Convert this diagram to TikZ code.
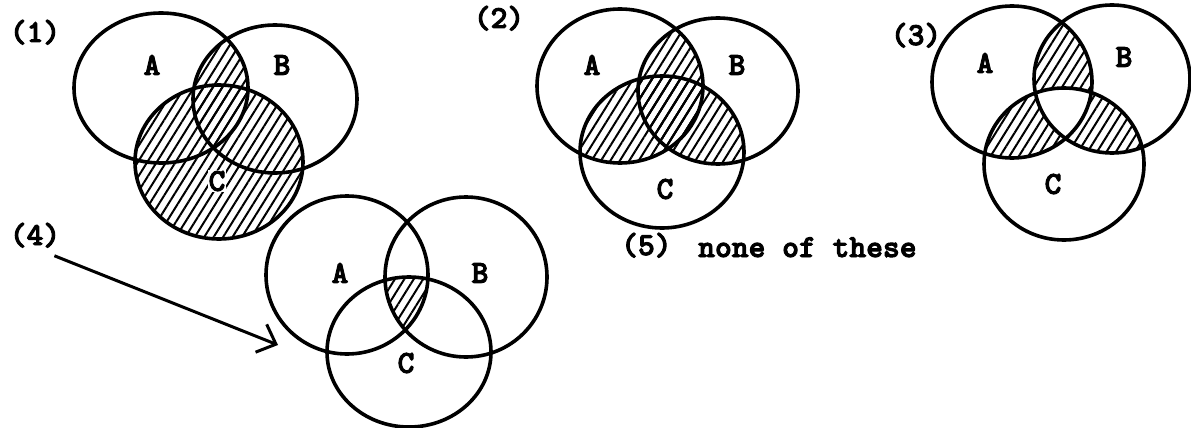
\documentclass[tikz,border=0pt]{standalone}
\usepackage{fontspec}
\newfontfamily\lbfont{lmmonolt10-bold}[Extension=.otf, FakeBold=3]
\usetikzlibrary{patterns.meta,arrows.meta}
\tikzset{
  ring/.style={line width=3.6pt},
  hatch/.style={pattern={Lines[angle=58,distance=8pt,line width=2pt]}},
  lbl/.style={font=\lbfont\fontsize{32}{34}\selectfont, inner sep=0pt},
  pointer/.style={line width=3pt, -{Straight Barb[length=16pt,width=30pt,line width=3pt]}},
}
\begin{document}
\begin{tikzpicture}[x=1pt,y=-1pt]
\useasboundingbox (0,0) rectangle (1191,428);

% ---------- Diagram 1 : (A and B) or C ----------
\begin{scope}
  \clip (161,88) ellipse [x radius=87pt,y radius=75pt];
  \fill[hatch] (275,99) ellipse [x radius=82pt,y radius=74pt];
\end{scope}
\fill[hatch] (219,162) ellipse [x radius=84pt,y radius=77pt];
\draw[ring] (161,88) ellipse [x radius=87pt,y radius=75pt];
\draw[ring] (275,99) ellipse [x radius=82pt,y radius=74pt];
\draw[ring] (219,162) ellipse [x radius=84pt,y radius=77pt];
\node[lbl, anchor=base] (n1) at (35,42) {(1)};
\node[lbl] (a1) at (152,65) {A};
\node[lbl] (b1) at (282,65) {B};
\node[lbl, fill=white, inner sep=1pt] (c1) at (217,181) {C};

% ---------- Diagram 2 : pairwise intersections ----------
\begin{scope}
  \clip (620,86) ellipse [x radius=83pt,y radius=77pt];
  \fill[hatch] (718,91) ellipse [x radius=80pt,y radius=73pt];
  \fill[hatch] (662,152) ellipse [x radius=82pt,y radius=76pt];
\end{scope}
\begin{scope}
  \clip (718,91) ellipse [x radius=80pt,y radius=73pt];
  \fill[hatch] (662,152) ellipse [x radius=82pt,y radius=76pt];
\end{scope}
\draw[ring] (620,86) ellipse [x radius=83pt,y radius=77pt];
\draw[ring] (718,91) ellipse [x radius=80pt,y radius=73pt];
\draw[ring] (662,152) ellipse [x radius=82pt,y radius=76pt];
\node[lbl, anchor=base] (n2) at (499,28) {(2)};
\node[lbl] (a2) at (592,65) {A};
\node[lbl] (b2) at (737,65) {B};
\node[lbl] (c2) at (665,189) {C};

% ---------- Diagram 3 : pairwise intersections without the triple ----------
\begin{scope}
  \clip (1012,82) ellipse [x radius=80pt,y radius=76pt];
  \fill[hatch] (1112,79) ellipse [x radius=78pt,y radius=74pt];
  \fill[hatch] (1064,164) ellipse [x radius=80pt,y radius=76pt];
\end{scope}
\begin{scope}
  \clip (1112,79) ellipse [x radius=78pt,y radius=74pt];
  \fill[hatch] (1064,164) ellipse [x radius=80pt,y radius=76pt];
\end{scope}
\begin{scope}
  \clip (1012,82) ellipse [x radius=80pt,y radius=76pt];
  \clip (1112,79) ellipse [x radius=78pt,y radius=74pt];
  \fill[white] (1064,164) ellipse [x radius=80pt,y radius=76pt];
\end{scope}
\draw[ring] (1012,82) ellipse [x radius=80pt,y radius=76pt];
\draw[ring] (1112,79) ellipse [x radius=78pt,y radius=74pt];
\draw[ring] (1064,164) ellipse [x radius=80pt,y radius=76pt];
\node[lbl, anchor=base] (n3) at (916,45) {(3)};
\node[lbl] (a3) at (985,63) {A};
\node[lbl] (b3) at (1124,57) {B};
\node[lbl] (c3) at (1053,184) {C};

% ---------- Diagram 4 : triple intersection ----------
\begin{scope}
  \clip (347,275) ellipse [x radius=81pt,y radius=79pt];
  \clip (466,277) ellipse [x radius=81pt,y radius=80pt];
  \fill[hatch] (409,352) ellipse [x radius=82pt,y radius=75pt];
\end{scope}
\draw[ring] (347,275) ellipse [x radius=81pt,y radius=79pt];
\draw[ring] (466,277) ellipse [x radius=81pt,y radius=80pt];
\draw[ring] (409,352) ellipse [x radius=82pt,y radius=75pt];
\node[lbl, anchor=base] (n4) at (35,245) {(4)};
\node[lbl] (a4) at (340,273) {A};
\node[lbl] (b4) at (480,273) {B};
\node[lbl] (c4) at (406,363) {C};
\coordinate (tip4) at (278,345);
\draw[pointer] ([xshift=-6pt,yshift=-8pt]n4.south east) -- (tip4);

% ---------- (5) ----------
\node[lbl, anchor=base west] (n5) at (621,255) {(5)};
\node[lbl, anchor=base west] (t5) at (698,257) {none of these};
\end{tikzpicture}
\end{document}
